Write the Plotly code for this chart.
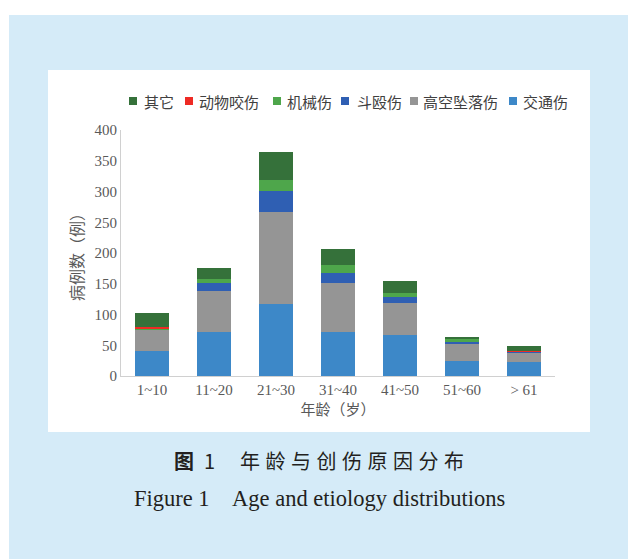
import plotly.graph_objects as go

categories = ["1~10", "11~20", "21~30", "31~40", "41~50", "51~60", "> 61"]

# stacked bottom -> top
traffic = [40, 71, 117, 72, 66, 25, 23]        # 交通伤
fall = [35, 68, 150, 79, 53, 27, 16]           # 高空坠落伤
fight = [1, 12, 34, 16, 10, 4, 1]              # 斗殴伤
machine = [2, 6, 18, 14, 6, 5, 0]              # 机械伤
animal = [2, 0, 0, 0, 0, 0, 1]                 # 动物咬伤
other = [23, 19, 45, 25, 19, 3, 7]             # 其它

series_names = ["交通伤", "高空坠落伤", "斗殴伤", "机械伤", "动物咬伤", "其它"]
series_values = [traffic, fall, fight, machine, animal, other]
series_colors = ["#3d88c8", "#959595", "#2f5fb3", "#4ea64b", "#ee2a24", "#35713a"]

y_ticks = [0, 50, 100, 150, 200, 250, 300, 350, 400]

W, H = 628, 559
L, R, T, B = 121, 555, 130, 376
PW, PH = R - L, B - T


def fx(p):
    return (p - L) / PW


def fy(p):
    return (B - p) / PH


LATIN = "Liberation Serif, 'Times New Roman', 'Noto Sans CJK SC', serif"
CJK = "'Noto Sans CJK SC', 'Liberation Serif', sans-serif"

fig = go.Figure()
for name, vals, col in zip(series_names, series_values, series_colors):
    fig.add_trace(go.Bar(x=categories, y=vals, name=name,
                         marker=dict(color=col, line=dict(width=0)),
                         showlegend=False))

shapes = [
    dict(type="rect", xref="paper", yref="paper", layer="below",
         x0=fx(9), x1=fx(640), y0=fy(15), y1=fy(570),
         fillcolor="#d5ebf8", line=dict(width=0)),
    dict(type="rect", xref="paper", yref="paper", layer="below",
         x0=fx(48), x1=fx(590), y0=fy(70), y1=fy(432),
         fillcolor="#ffffff", line=dict(width=0)),
]

annotations = []
# custom legend (order shown in reference: top of stack first)
legend_sq_x = [133, 189, 277, 345, 414, 513]
legend_txt_x = [142, 197, 285, 355, 421, 521]
legend_y = 101
for i, idx in enumerate(range(len(series_names) - 1, -1, -1)):
    sx = legend_sq_x[i]
    shapes.append(dict(type="rect", xref="paper", yref="paper",
                       x0=fx(sx - 4), x1=fx(sx + 4), y0=fy(legend_y + 4), y1=fy(legend_y - 4),
                       fillcolor=series_colors[idx], line=dict(width=0)))
    annotations.append(dict(xref="paper", yref="paper", x=fx(legend_txt_x[i]), y=fy(legend_y),
                            xanchor="left", yanchor="middle", showarrow=False,
                            text=series_names[idx],
                            font=dict(family=CJK, size=15, color="#404040")))

# captions
annotations.append(dict(xref="paper", yref="paper", x=fx(172), y=fy(460),
                        xanchor="left", yanchor="middle", showarrow=False,
                        text="<b>图</b>\u20021\u2003\u2005<span style='letter-spacing:5.5px'>年龄与创伤原因分布</span>",
                        font=dict(family=CJK, size=20, color="#231f20")))
annotations.append(dict(xref="paper", yref="paper", x=fx(319), y=fy(498),
                        xanchor="center", yanchor="middle", showarrow=False,
                        text="Figure 1\u2003Age and etiology distributions",
                        font=dict(family=LATIN, size=22.5, color="#231f20")))

fig.update_layout(
    width=W, height=H,
    margin=dict(l=L, r=W - R, t=T, b=H - B, pad=0),
    paper_bgcolor="#ffffff",
    plot_bgcolor="rgba(0,0,0,0)",
    barmode="stack",
    bargap=0.45,
    showlegend=False,
    shapes=shapes,
    annotations=annotations,
    font=dict(family=LATIN, size=15, color="#595959"),
    xaxis=dict(
        showline=True, linecolor="#d0d0d0", linewidth=1,
        ticks="", showgrid=False, zeroline=False,
        tickfont=dict(family=LATIN, size=15, color="#595959"),
        title=dict(text="年龄（岁）", standoff=6,
                   font=dict(family=CJK, size=15, color="#595959")),
        automargin=False,
    ),
    yaxis=dict(
        range=[0, 400], tickvals=y_ticks,
        showline=True, linecolor="#d0d0d0", linewidth=1,
        ticks="", showgrid=False, zeroline=False,
        tickfont=dict(family=LATIN, size=15, color="#595959"),
        title=dict(text="病例数（例）", standoff=6,
                   font=dict(family=CJK, size=16, color="#595959")),
        automargin=False,
    ),
)

fig.write_html("out.html")
